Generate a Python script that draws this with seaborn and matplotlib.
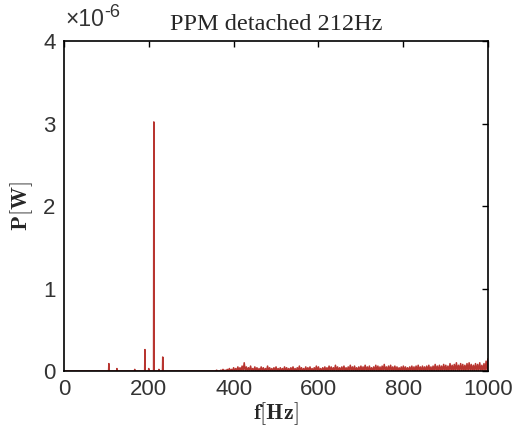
import numpy as np
import pandas as pd
import matplotlib
matplotlib.use("Agg")
import matplotlib.pyplot as plt
import seaborn as sns

# Spectral peaks (Hz) and power (x1e-6 W)
peak_freqs = [106, 125, 167, 191, 200, 212, 224, 233]
peak_power = [0.09, 0.03, 0.02, 0.26, 0.03, 3.02, 0.02, 0.17]

# Broadband noise floor, 5 Hz spacing from 360 Hz to 1000 Hz (x1e-6 W)
noise_start = 360
noise_step = 5
noise_power = [
    0.01, 0.00, 0.01, 0.02, 0.01, 0.02, 0.03, 0.02, 0.04, 0.03,
    0.05, 0.04, 0.06, 0.10, 0.05, 0.04, 0.06, 0.03, 0.05, 0.04,
    0.03, 0.05, 0.04, 0.03, 0.06, 0.04, 0.03, 0.04, 0.05, 0.03,
    0.04, 0.03, 0.05, 0.04, 0.03, 0.04, 0.05, 0.03, 0.04, 0.06,
    0.04, 0.03, 0.05, 0.04, 0.05, 0.03, 0.04, 0.06, 0.05, 0.03,
    0.04, 0.05, 0.04, 0.06, 0.05, 0.04, 0.07, 0.05, 0.04, 0.05,
    0.06, 0.04, 0.05, 0.07, 0.05, 0.06, 0.04, 0.05, 0.06, 0.05,
    0.07, 0.05, 0.06, 0.04, 0.05, 0.07, 0.06, 0.05, 0.06, 0.08,
    0.05, 0.06, 0.07, 0.05, 0.06, 0.05, 0.04, 0.05, 0.06, 0.05,
    0.04, 0.05, 0.06, 0.05, 0.06, 0.07, 0.05, 0.06, 0.05, 0.06,
    0.07, 0.05, 0.06, 0.08, 0.06, 0.07, 0.06, 0.08, 0.07, 0.06,
    0.09, 0.07, 0.08, 0.10, 0.07, 0.09, 0.08, 0.07, 0.09, 0.10,
    0.08, 0.07, 0.09, 0.08, 0.10, 0.07, 0.09, 0.12, 0.15,
]

x_ticks = [0, 200, 400, 600, 800, 1000]
y_ticks = [0, 1, 2, 3, 4]

# Build spectrum line (spikes returning to zero baseline)
f_pts, p_pts = [0.0], [0.0]
for f, p in zip(peak_freqs, peak_power):
    f_pts += [f - 0.6, f, f + 0.6]
    p_pts += [0.0, p, 0.0]
for i, p in enumerate(noise_power):
    f = noise_start + i * noise_step
    f_pts += [f - 2.5, f]
    p_pts += [0.0, p]
f_pts.append(1000.0)
p_pts.append(0.0)
df = pd.DataFrame({"f": f_pts, "P": p_pts})

sns.set_style("white")
plt.rcParams["mathtext.fontset"] = "cm"
plt.rcParams["font.family"] = ["Liberation Sans", "DejaVu Sans"]

fig = plt.figure(figsize=(5.15, 4.37), dpi=100)
ax = fig.add_axes([0.124, 0.151, 0.824, 0.755])

sns.lineplot(data=df, x="f", y="P", sort=False, estimator=None,
             color="#b83530", linewidth=1.1, ax=ax)

ax.set_xlim(0, 1000)
ax.set_ylim(0, 4)
ax.set_xticks(x_ticks)
ax.set_yticks(y_ticks)
ax.set_xticklabels([str(t) for t in x_ticks])
ax.set_yticklabels([str(t) for t in y_ticks])
ax.tick_params(direction="in", length=4, width=1, top=True, right=True,
               labelsize=16, colors="black", pad=6)
ax.tick_params(axis="x", labelcolor="#333333")
ax.tick_params(axis="y", labelcolor="#333333")
for s in ax.spines.values():
    s.set_visible(True)
    s.set_color("black")
    s.set_linewidth(1.2)

ax.set_xlabel(r"$\mathbf{f}[\mathbf{Hz}]$", fontsize=16, labelpad=0)
ax.set_ylabel(r"$\mathbf{P}[\mathbf{W}]$", fontsize=16, labelpad=6)
ax.set_title("PPM detached 212Hz", fontsize=17.5, family="Liberation Serif", pad=8)
fig.text(65 / 515, 1 - 26 / 437, "\u00d710", fontsize=16.5, ha="left",
         va="baseline", color="#333333")
fig.text(104 / 515, 1 - 17 / 437, "-6", fontsize=13, ha="left",
         va="baseline", color="#333333")

fig.savefig("out.png", dpi=100)
